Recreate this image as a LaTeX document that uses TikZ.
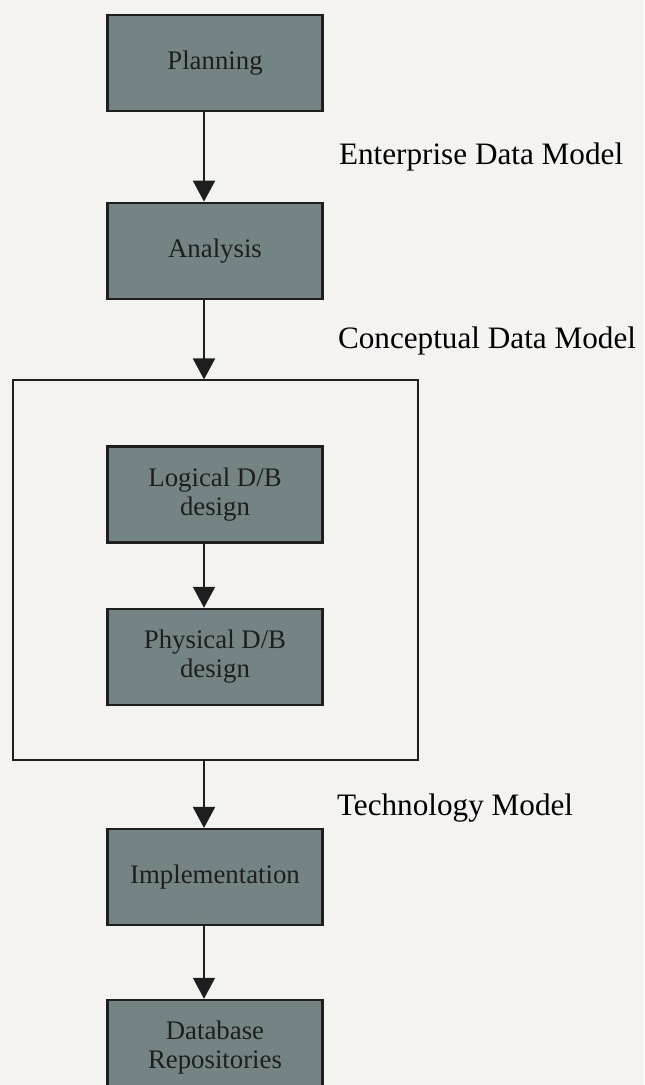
\documentclass[tikz,border=0pt]{standalone}
\usepackage{fontspec}
\setmainfont{Liberation Serif}
\usepackage{xcolor}
\usepackage{tikz}
\usetikzlibrary{arrows.meta, positioning}

\definecolor{paper}{RGB}{244,243,239}
\definecolor{boxfill}{RGB}{116,132,133}
\definecolor{ink}{RGB}{30,30,30}

\begin{document}
\begin{tikzpicture}[x=0.5pt, y=-0.5pt,
  -{Triangle[width=11pt,length=10.5pt]}, line width=1pt, draw=ink,
  phase/.style={draw=ink, line width=1.15pt, fill=boxfill, text=ink,
    minimum width=107.5pt, minimum height=48pt, align=center,
    font=\fontsize{13.4}{14.5}\selectfont},
  frame/.style={draw=ink, line width=1pt, minimum width=202.5pt, minimum height=190pt},
  model/.style={anchor=base west, inner sep=0pt, text=black,
    font=\fontsize{15.6}{18}\selectfont}]
% Fondo
\fill[paper] (0,0) rectangle (644,1085);
\useasboundingbox (0,0) rectangle (644,1085);
% Fases
\node[phase] (plan) at (215,63) {Planning};
\node[phase, below=44.75pt of plan] (anal) {Analysis};
\node[frame, below=39.75pt of anal] (box) {};
\node[phase, below=33pt of box.north] (logic) {Logical D/B\\design};
\node[phase, below=32pt of logic] (phys) {Physical D/B\\design};
\node[phase, below=33.25pt of box] (impl) {Implementation};
\node[phase, below=36.25pt of impl] (repo) {Database\\Repositories};
% Modelos
\node[model] (ent) at (338,165) {Enterprise Data Model};
\node[model] (con) at (337,348) {Conceptual Data Model};
\node[model] (tec) at (336,815) {Technology Model};
% Flechas
\draw ([xshift=-5.5pt]plan.south) -- ([xshift=-5.5pt]anal.north);
\draw ([xshift=-5.5pt]anal.south) -- ([xshift=-5.5pt]box.north);
\draw ([xshift=-5.5pt]logic.south) -- ([xshift=-5.5pt]phys.north);
\draw ([xshift=-5.5pt]box.south) -- ([xshift=-5.5pt]impl.north);
\draw ([xshift=-5.5pt]impl.south) -- ([xshift=-5.5pt]repo.north);
\end{tikzpicture}
\end{document}
